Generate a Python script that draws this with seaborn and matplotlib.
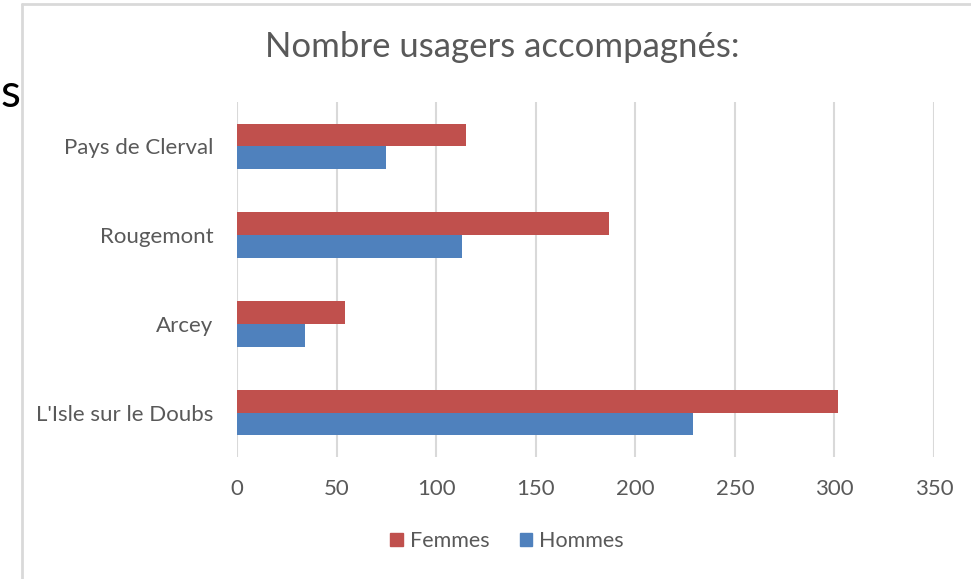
import numpy as np
import pandas as pd
import matplotlib
matplotlib.use("Agg")
import matplotlib.pyplot as plt
import seaborn as sns
from matplotlib.lines import Line2D

# données
sites = ["Pays de Clerval", "Rougemont", "Arcey", "L'Isle sur le Doubs"]
femmes = [115, 187, 54, 302]
hommes = [75, 113, 34, 229]
x_ticks = [0, 50, 100, 150, 200, 250, 300, 350]

df = pd.DataFrame({
    "site": sites * 2,
    "usagers": femmes + hommes,
    "sexe": ["Femmes"] * len(sites) + ["Hommes"] * len(sites),
})

sns.set_style("white")
plt.rcParams["font.family"] = ["Lato", "DejaVu Sans"]
grey_txt = "#595959"

fig = plt.figure(figsize=(9.71, 5.79), dpi=100)
ax = fig.add_axes([237 / 971, 1 - 457 / 579, (934 - 237) / 971, (457 - 102) / 579])

sns.barplot(data=df, y="site", x="usagers", hue="sexe", order=sites,
            hue_order=["Femmes", "Hommes"], orient="h",
            palette={"Femmes": "#C0504D", "Hommes": "#4F81BD"}, saturation=1,
            width=0.51, gap=0, linewidth=0, errorbar=None, legend=False, ax=ax)

ax.set_xlim(0, 350)
ax.set_xticks(x_ticks)
ax.set_xlabel("")
ax.set_ylabel("")
ax.grid(axis="x", color="#d9d9d9", linewidth=1.5)
ax.set_axisbelow(True)
for s in ax.spines.values():
    s.set_visible(False)
ax.tick_params(axis="x", length=0, pad=16, labelsize=16, labelcolor=grey_txt)
ax.tick_params(axis="y", length=0, pad=17, labelsize=16, labelcolor=grey_txt)

fig.text(502 / 971, 1 - 47 / 579, "Nombre usagers accompagnés:", ha="center", va="center",
         fontsize=25, color=grey_txt)

handles = [plt.Rectangle((0, 0), 1, 1, color="#C0504D"),
           plt.Rectangle((0, 0), 1, 1, color="#4F81BD")]
fig.legend(handles, ["Femmes", "Hommes"], loc="center", ncol=2,
           bbox_to_anchor=(507 / 971, 1 - 541 / 579), frameon=False,
           fontsize=15.5, labelcolor=grey_txt, handlelength=0.6, handleheight=0.6,
           handletextpad=0.3, columnspacing=1.4)

# cadre du graphique et bout de texte à gauche
fig.add_artist(Line2D([22 / 971, 22 / 971], [0, 1 - 4 / 579], color="#d9d9d9", linewidth=2,
                      transform=fig.transFigure))
fig.add_artist(Line2D([22 / 971, 1], [1 - 4 / 579, 1 - 4 / 579], color="#d9d9d9", linewidth=2,
                      transform=fig.transFigure))
fig.text(0, 1 - 94 / 579, "s", ha="left", va="center", fontsize=33, color="black")

fig.savefig("out.png", dpi=100)
